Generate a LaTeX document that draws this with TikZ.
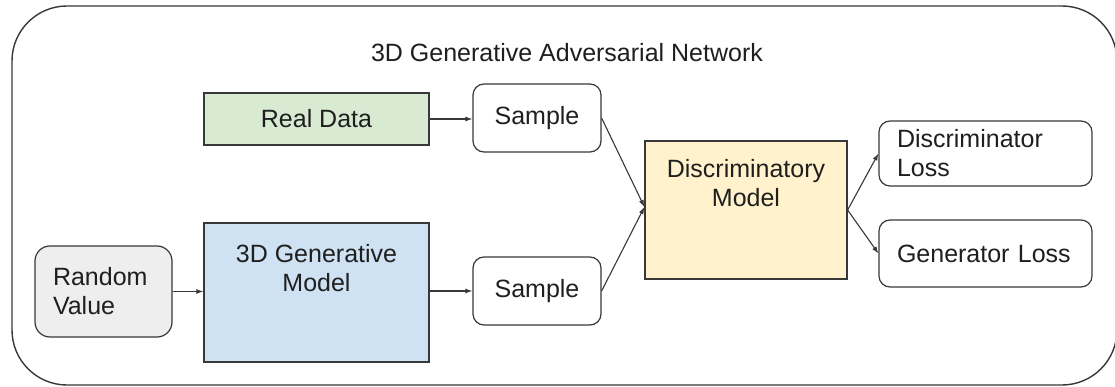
\documentclass[tikz,border=0pt]{standalone}
\usepackage{fontspec}
\setmainfont{Liberation Sans}
\usetikzlibrary{arrows.meta}
\definecolor{greenfill}{HTML}{D9EAD3}
\definecolor{bluefill}{HTML}{CFE2F3}
\definecolor{yellowfill}{HTML}{FFF2CC}
\definecolor{grayfill}{HTML}{EEEEEE}
\definecolor{edge}{HTML}{383838}
\definecolor{txt}{HTML}{1F1F1F}
\begin{document}
\begin{tikzpicture}[x=1pt,y=-1pt,
  box/.style={draw=edge, line width=1.2pt, inner sep=0pt, font=\fontsize{25}{29}\selectfont, text=txt},
  rbox/.style={box, rounded corners=11pt},
  lbl/.style={font=\fontsize{25}{29}\selectfont, text=txt, inner sep=0pt, align=center},
  arr/.style={draw=edge, line width=1.1pt, -{Latex[length=7pt,width=5pt]}}]

\useasboundingbox (0,0) rectangle (1115,387);
\fill[white] (0,0) rectangle (1115,387);
\draw[edge, line width=1.4pt, rounded corners=55pt] (12,6) rectangle (1117,385);

\node[lbl] (title) at (567,53) {3D Generative Adversarial Network};

\node[box, fill=greenfill, minimum width=225pt, minimum height=52pt] (real) at (316.5,119) {Real Data};
\node[rbox, minimum width=128pt, minimum height=68pt] (s1) at (537,118) {Sample};
\node[rbox, minimum width=128pt, minimum height=68pt] (s2) at (537,291) {Sample};

\node[box, fill=bluefill, minimum width=225pt, minimum height=139pt] (gen) at (316.5,292.5) {};
\node[lbl, anchor=north] (gent) at (316.5,244) {3D Generative\\Model};

\node[box, fill=grayfill, rounded corners=15pt, minimum width=137pt, minimum height=91pt,
      text width=101pt, align=left] (rv) at (103.5,291.5) {Random\\Value};

\node[box, fill=yellowfill, minimum width=202pt, minimum height=138pt] (dm) at (746,210) {};
\node[lbl, anchor=north] (dmt) at (746,159) {Discriminatory\\Model};

\node[rbox, minimum width=213pt, minimum height=65pt, text width=177pt, align=left] (dl) at (985.5,153.5) {Discriminator\\Loss};
\node[rbox, minimum width=213pt, minimum height=67pt, text width=177pt, align=left] (gl) at (985.5,253.5) {Generator Loss};

\draw[arr] (real.east) -- (real.east -| s1.west);
\draw[arr] (rv.east) -- (rv.east -| gen.west);
\draw[arr] (s2.west -| gen.east) -- (s2.west);
\draw[arr] (s1.east) -- ([yshift=3pt]dm.west);
\draw[arr] (s2.east) -- ([yshift=3pt]dm.west);
\draw[arr] (dm.east) -- (dl.west);
\draw[arr] (dm.east) -- (gl.west);
\end{tikzpicture}
\end{document}
